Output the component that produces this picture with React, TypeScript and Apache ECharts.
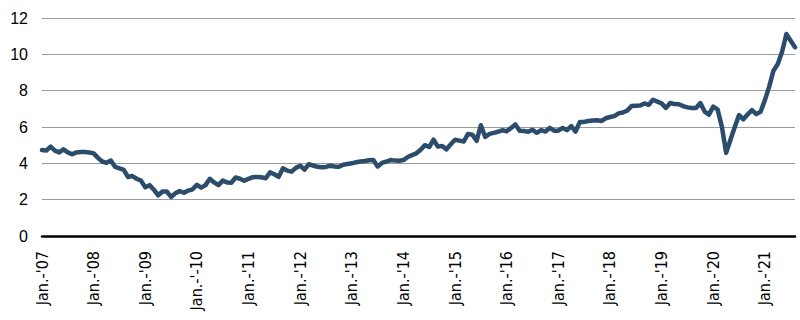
import React, { useEffect, useRef } from "react";
import * as echarts from "echarts";

const years = [2007, 2008, 2009, 2010, 2011, 2012, 2013, 2014, 2015, 2016, 2017, 2018, 2019, 2020, 2021];
const yearLabels = [
  "Jan.-'07", "Jan.-'08", "Jan.-'09", "Jan.-'-10", "Jan.-'11", "Jan.-'12", "Jan.-'13",
  "Jan.-'14", "Jan.-'15", "Jan.-'16", "Jan.-'17", "Jan.-'18", "Jan.-'19", "Jan.-'20", "Jan.-'21",
];

const v2007 = [4.73, 4.7, 4.92, 4.7, 4.6, 4.77, 4.6, 4.5, 4.6, 4.62, 4.62, 4.6];
const v2008 = [4.55, 4.3, 4.1, 4.03, 4.15, 3.8, 3.72, 3.64, 3.25, 3.3, 3.15, 3.05];
const v2009 = [2.68, 2.8, 2.55, 2.24, 2.45, 2.45, 2.15, 2.35, 2.47, 2.38, 2.5, 2.57];
const v2010 = [2.82, 2.66, 2.8, 3.15, 2.95, 2.8, 3.05, 2.95, 2.93, 3.22, 3.15, 3.04];
const v2011 = [3.15, 3.24, 3.25, 3.23, 3.18, 3.5, 3.4, 3.26, 3.73, 3.6, 3.54, 3.75];
const v2012 = [3.87, 3.65, 3.95, 3.88, 3.81, 3.78, 3.8, 3.87, 3.83, 3.81, 3.92, 3.96];
const v2013 = [4.0, 4.06, 4.1, 4.13, 4.17, 4.18, 3.82, 4.02, 4.1, 4.18, 4.15, 4.14];
const v2014 = [4.18, 4.35, 4.45, 4.55, 4.75, 5.0, 4.9, 5.3, 4.92, 4.95, 4.77, 5.05];
const v2015 = [5.3, 5.25, 5.2, 5.62, 5.58, 5.24, 6.1, 5.45, 5.62, 5.68, 5.74, 5.82];
const v2016 = [5.76, 5.95, 6.14, 5.8, 5.78, 5.74, 5.85, 5.68, 5.83, 5.75, 5.95, 5.8];
const v2017 = [5.8, 5.95, 5.83, 6.05, 5.75, 6.28, 6.28, 6.33, 6.36, 6.37, 6.33, 6.48];
const v2018 = [6.55, 6.6, 6.75, 6.8, 6.9, 7.15, 7.17, 7.18, 7.3, 7.22, 7.5, 7.4];
const v2019 = [7.3, 7.05, 7.32, 7.26, 7.25, 7.15, 7.08, 7.05, 7.05, 7.32, 6.85, 6.68];
const v2020 = [7.12, 6.97, 6.02, 4.58, 5.3, 6.0, 6.66, 6.42, 6.7, 6.93, 6.71, 6.84];
const v2021 = [7.48, 8.22, 9.1, 9.47, 10.14, 11.12, 10.75, 10.39];

const yearValues = [
  v2007, v2008, v2009, v2010, v2011, v2012, v2013, v2014,
  v2015, v2016, v2017, v2018, v2019, v2020, v2021,
];

const categories: string[] = [];
const labelByCategory: Record<string, string> = {};
const values: number[] = [];
yearValues.forEach((arr, yi) => {
  arr.forEach((v, m) => {
    const key = `${years[yi]}-${String(m + 1).padStart(2, "0")}`;
    categories.push(key);
    if (m === 0) labelByCategory[key] = yearLabels[yi];
    values.push(v);
  });
});

export default function App() {
  const ref = useRef<HTMLDivElement>(null);
  useEffect(() => {
    if (!ref.current) return;
    const chart = echarts.init(ref.current, undefined, { renderer: "svg" });
    chart.setOption({
      animation: false,
      backgroundColor: "#ffffff",
      grid: { left: 42, right: 5, top: 18, bottom: 84, containLabel: false },
      xAxis: {
        type: "category",
        data: categories,
        boundaryGap: false,
        axisLine: { show: true, lineStyle: { color: "#000000", width: 2.5 } },
        axisTick: { show: false },
        splitLine: { show: false },
        axisLabel: {
          interval: (idx: number) => idx % 12 === 0,
          rotate: 90,
          margin: 15,
          fontSize: 16,
          fontFamily: "'Liberation Sans Narrow', 'DejaVu Sans Condensed', 'Liberation Sans', Arial, sans-serif",
          color: "#000000",
          formatter: (val: string) => labelByCategory[val] ?? "",
        },
      },
      yAxis: {
        type: "value",
        min: 0,
        max: 12,
        interval: 2,
        axisLine: { show: false },
        axisTick: { show: false },
        splitLine: { show: true, lineStyle: { color: "#9a9a9a", width: 1.2 } },
        axisLabel: {
          margin: 14,
          fontSize: 16,
          fontFamily: "'Liberation Sans', Arial, sans-serif",
          color: "#000000",
        },
      },
      series: [
        {
          type: "line",
          data: values,
          showSymbol: false,
          smooth: false,
          lineStyle: { color: "#2c4c6c", width: 4.5, cap: "round", join: "round" },
          z: 3,
        },
      ],
    });
    return () => chart.dispose();
  }, []);
  return <div ref={ref} style={{ width: 800, height: 320, position: "absolute", left: 0, top: 0 }} />;
}
